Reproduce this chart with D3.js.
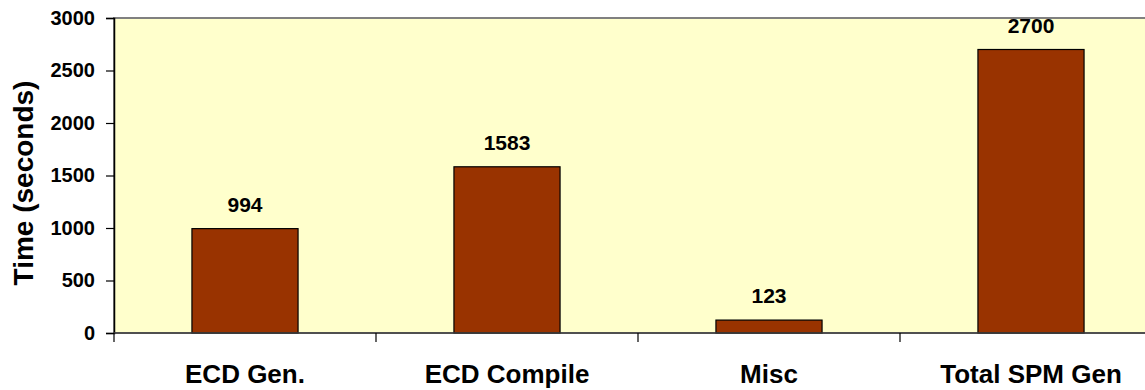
<!DOCTYPE html>
<html><head><meta charset="utf-8">
<script src="https://cdn.jsdelivr.net/npm/d3@7"></script>
<style>
html,body{margin:0;padding:0;background:#fff;overflow:hidden;}
text{font-family:"Liberation Sans",Arial,sans-serif;font-weight:bold;fill:#000;}
</style></head>
<body>
<svg id="c" width="1145" height="390"></svg>
<script>
const categories = ["ECD Gen.", "ECD Compile", "Misc", "Total SPM Gen"];
const values = [994, 1583, 123, 2700];
const yTicks = [0, 500, 1000, 1500, 2000, 2500, 3000];
const yTitle = "Time (seconds)";

(function () {
const svg = d3.select("#c");
const mL = 114, mR = 1162, mT = 18, mB = 333;

const x = d3.scaleBand().domain(categories).range([mL, mR]).paddingInner(0).paddingOuter(0);
const y = d3.scaleLinear().domain([0, 3000]).range([mB, mT]);

// plot background
svg.append("rect").attr("x", mL).attr("y", mT).attr("width", mR - mL).attr("height", mB - mT)
  .attr("fill", "#FFFFCC").attr("stroke", "#808080").attr("stroke-width", 2);

// bars
const bw = x.bandwidth() * 0.405;
svg.selectAll("rect.bar").data(values).enter().append("rect").attr("class", "bar")
  .attr("x", (d, i) => x(categories[i]) + x.bandwidth() / 2 - bw / 2)
  .attr("y", d => y(d))
  .attr("width", bw)
  .attr("height", d => mB - y(d))
  .attr("fill", "#993300").attr("stroke", "#000").attr("stroke-width", 1.2);

// data labels
svg.selectAll("text.dl").data(values).enter().append("text").attr("class", "dl")
  .attr("x", (d, i) => x(categories[i]) + x.bandwidth() / 2)
  .attr("y", d => y(d) - 17)
  .attr("text-anchor", "middle").style("font-size", "21px")
  .text(d => d);

// y axis
const yAxis = svg.append("g").attr("transform", `translate(${mL},0)`)
  .call(d3.axisLeft(y).tickValues(yTicks).tickSize(8).tickPadding(11).tickFormat(d3.format("d")));
yAxis.select(".domain").attr("stroke", "#000").attr("stroke-width", 1.5);
yAxis.selectAll(".tick line").attr("stroke", "#000").attr("stroke-width", 1.2);
yAxis.selectAll(".tick text").style("font-size", "20px").style("font-family", "Liberation Sans, Arial, sans-serif").style("font-weight", "bold");

// x axis line
svg.append("line").attr("x1", mL).attr("x2", mR).attr("y1", mB).attr("y2", mB)
  .attr("stroke", "#404040").attr("stroke-width", 1.5);
// category boundary ticks
const bounds = categories.map(c => x(c)).concat([mR]);
svg.selectAll("line.xt").data(bounds).enter().append("line").attr("class", "xt")
  .attr("x1", d => d).attr("x2", d => d).attr("y1", mB).attr("y2", mB + 9)
  .attr("stroke", "#000").attr("stroke-width", 1.2);
// category labels
svg.selectAll("text.cat").data(categories).enter().append("text").attr("class", "cat")
  .attr("x", d => x(d) + x.bandwidth() / 2)
  .attr("y", 383)
  .attr("text-anchor", "middle").style("font-size", "26px")
  .text(d => d);

// y title
svg.append("text").attr("transform", "translate(33,183) rotate(-90)")
  .attr("text-anchor", "middle").style("font-size", "28px").text(yTitle);
})();
</script>
</body></html>
